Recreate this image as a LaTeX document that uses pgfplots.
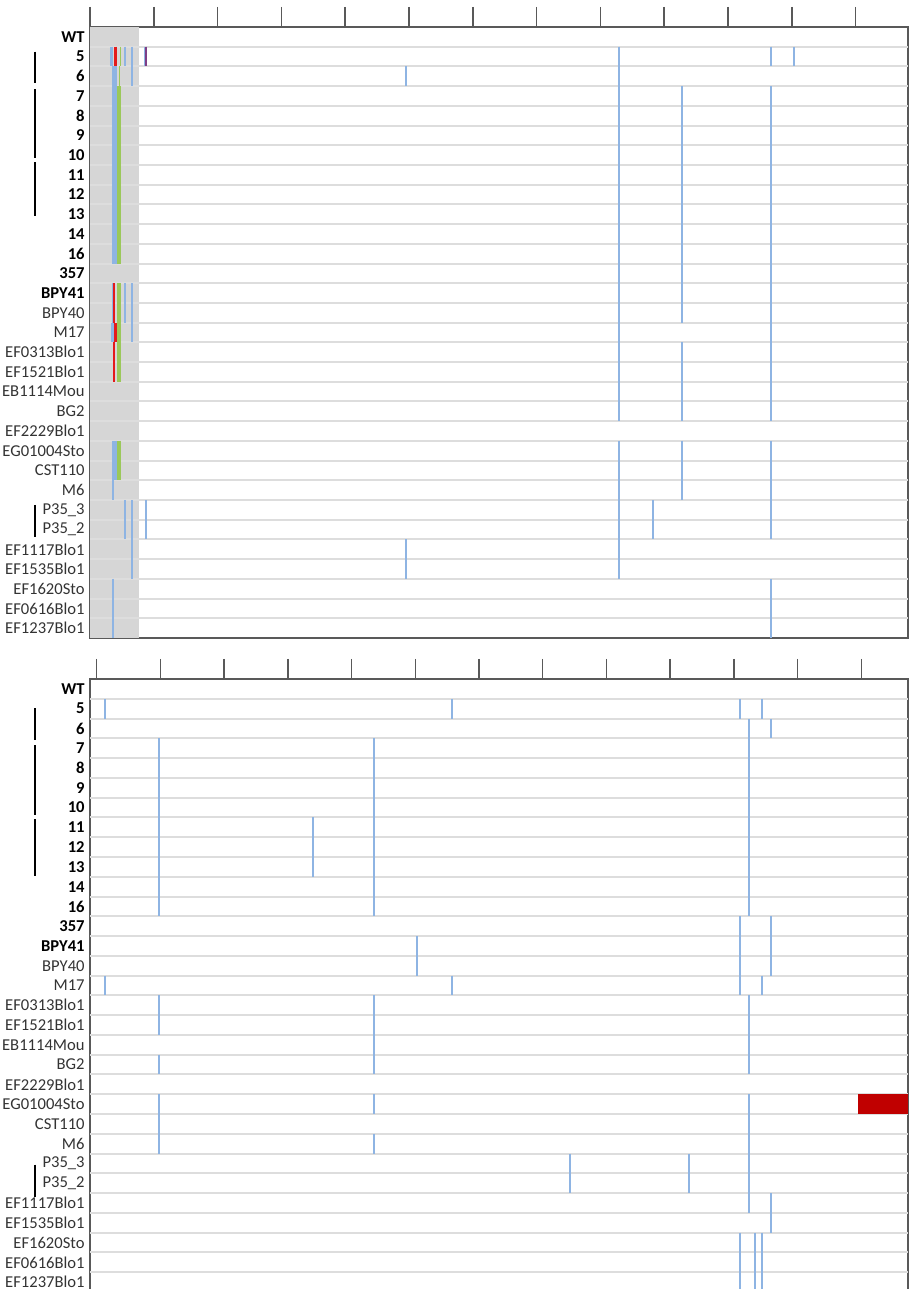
\documentclass[border=0pt]{standalone}
\usepackage{pgfplots}
\usepackage{pgfplotstable}
\pgfplotsset{compat=1.18}
\usepackage{fontspec}
\setmainfont{Carlito}
\definecolor{mblue}{HTML}{8EB4E3}
\definecolor{mred}{HTML}{E41A1C}
\definecolor{mgreen}{HTML}{9BC85A}
\definecolor{mpurple}{HTML}{7E3F86}
\definecolor{dred}{HTML}{C00000}
\definecolor{sepgray}{HTML}{DDDDDD}
\definecolor{shade}{HTML}{D6D6D6}
\definecolor{axgray}{HTML}{595959}
\definecolor{lab}{HTML}{333333}
\newcommand{\B}[1]{\textcolor{black}{\textbf{#1}}}
\pgfplotstableread{
x y
90 0.5
908 0.5
nan nan
90 1.5
908 1.5
nan nan
90 2.5
908 2.5
nan nan
90 3.5
908 3.5
nan nan
90 4.5
908 4.5
nan nan
90 5.5
908 5.5
nan nan
90 6.5
908 6.5
nan nan
90 7.5
908 7.5
nan nan
90 8.5
908 8.5
nan nan
90 9.5
908 9.5
nan nan
90 10.5
908 10.5
nan nan
90 11.5
908 11.5
nan nan
90 12.5
908 12.5
nan nan
90 13.5
908 13.5
nan nan
90 14.5
908 14.5
nan nan
90 15.5
908 15.5
nan nan
90 16.5
908 16.5
nan nan
90 17.5
908 17.5
nan nan
90 18.5
908 18.5
nan nan
90 19.5
908 19.5
nan nan
90 20.5
908 20.5
nan nan
90 21.5
908 21.5
nan nan
90 22.5
908 22.5
nan nan
90 23.5
908 23.5
nan nan
90 24.5
908 24.5
nan nan
90 25.5
908 25.5
nan nan
90 26.5
908 26.5
nan nan
90 27.5
908 27.5
nan nan
90 28.5
908 28.5
nan nan
90 29.5
908 29.5
}\seps
\pgfplotsset{
  rowpanel/.style={
    scale only axis, width=409pt, height=305.5pt,
    xmin=90, xmax=908, ymin=-0.5, ymax=30.5, y dir=reverse,
    clip=false, unbounded coords=jump,
    xtick pos=right, xtick align=outside, major tick length=10pt,
    xticklabels={},
    ytick={0,...,30}, ytick pos=left, ytick style={draw=none},
    yticklabels={\B{WT},\B{5},\B{6},\B{7},\B{8},\B{9},\B{10},\B{11},\B{12},\B{13},\B{14},\B{16},\B{357},\B{BPY41},BPY40,M17,EF0313Blo1,EF1521Blo1,EB1114Mou,BG2,EF2229Blo1,EG01004Sto,CST110,M6,P35\_3,P35\_2,EF1117Blo1,EF1535Blo1,EF1620Sto,EF0616Blo1,EF1237Blo1},
    axis line style={axgray, line width=0.75pt},
    xtick style={axgray, line width=0.75pt},
    yticklabel style={font=\fontsize{8.3}{10}\selectfont, text=lab, inner xsep=0pt, xshift=-2.5pt},
  }
}
\begin{document}
\begin{tikzpicture}
\path[use as bounding box] (0,0) rectangle (454.5pt,644.5pt);
% ---------------- top panel ----------------
\begin{axis}[rowpanel, at={(45pt,325.5pt)}, anchor=south west,
  xtick={90,153.8,217.6,281.4,345.2,409,472.8,536.6,600.4,664.2,728,791.8,855.6}]
\addplot[fill=shade, draw=none] coordinates {(90,-0.5) (139,-0.5) (139,30.5) (90,30.5)} -- cycle;
\addplot[sepgray, line width=1pt] table {\seps};
% thick blue
\addplot[mblue, line width=2.5pt] table {
x y
114.2 1.5
114.2 11.5
nan nan
114.2 20.5
114.2 22.5
};
\addplot[mblue, line width=1.5pt] table {
x y
111 0.5
111 1.5
nan nan
112.7 14.5
112.7 15.5
};
\addplot[mblue, line width=0.8pt] table {
x y
112.6 12.5
112.6 14.5
};
% thin blue
\addplot[mblue, line width=1pt] table {
x y
131.7 0.5
131.7 2.5
nan nan
131.7 12.5
131.7 15.5
nan nan
131.7 23.5
131.7 27.5
nan nan
125 0.5
125 1.5
nan nan
125 12.5
125 14.5
nan nan
125 23.5
125 25.5
nan nan
112.5 22.5
112.5 23.5
nan nan
112.5 27.5
112.5 30.5
nan nan
145.8 23.5
145.8 25.5
nan nan
406 1.5
406 2.5
nan nan
406 25.5
406 27.5
nan nan
619 0.5
619 19.5
nan nan
619 20.5
619 27.5
nan nan
681.5 2.5
681.5 14.5
nan nan
681.5 15.5
681.5 19.5
nan nan
681.5 20.5
681.5 23.5
nan nan
653 23.5
653 25.5
nan nan
770.5 0.5
770.5 1.5
nan nan
770.5 2.5
770.5 19.5
nan nan
770.5 20.5
770.5 25.5
nan nan
770.5 27.5
770.5 30.5
nan nan
793.5 0.5
793.5 1.5
};
% purple mark with blue edge
\addplot[mblue, line width=1.6pt] table {
x y
145.6 0.5
145.6 1.5
};
\addplot[mpurple, line width=0.9pt] table {
x y
145.6 0.5
145.6 1.5
};
% green
\addplot[mgreen, line width=1.75pt] table {
x y
119 2.5
119 11.5
nan nan
119 12.5
119 17.5
nan nan
119 20.5
119 22.5
};
\addplot[mgreen, line width=0.5pt] table {
x y
120.2 0.5
120.2 1.5
nan nan
119.5 1.5
119.5 2.5
};
% red
\addplot[mred, line width=1.1pt] table {
x y
114.3 12.5
114.3 14.5
nan nan
114 15.5
114 17.5
};
\addplot[mred, line width=1.35pt] table {
x y
115.3 0.5
115.3 1.5
nan nan
115.8 14.5
115.8 15.5
};
% brackets
\addplot[black, line width=0.75pt] table {
x y
35 0.75
35 2.36
nan nan
35 2.66
35 6.15
nan nan
35 6.35
35 9.09
nan nan
35 23.75
35 25.36
};
\end{axis}
% ---------------- bottom panel ----------------
\begin{axis}[rowpanel, at={(45pt,-1.5pt)}, anchor=south west, height=306.5pt,
  xtick={96.7,160.4,224.1,287.9,351.6,415.3,479,542.7,606.5,670.2,733.9,797.6,861.3}]
\addplot[sepgray, line width=1pt] table {\seps};
\addplot[fill=dred, draw=none] coordinates {(858,20.5) (908,20.5) (908,21.5) (858,21.5)} -- cycle;
\addplot[mblue, line width=1pt] table {
x y
105 0.5
105 1.5
nan nan
105 14.5
105 15.5
nan nan
158.5 2.5
158.5 11.5
nan nan
158.5 15.5
158.5 17.5
nan nan
158.5 18.5
158.5 19.5
nan nan
158.5 20.5
158.5 23.5
nan nan
313 6.5
313 9.5
nan nan
374 2.5
374 11.5
nan nan
374 15.5
374 19.5
nan nan
374 20.5
374 21.5
nan nan
374 22.5
374 23.5
nan nan
417 12.5
417 14.5
nan nan
452 0.5
452 1.5
nan nan
452 14.5
452 15.5
nan nan
570 23.5
570 25.5
nan nan
689 23.5
689 25.5
nan nan
740 0.5
740 1.5
nan nan
740 11.5
740 15.5
nan nan
740 27.5
740 30.5
nan nan
749.3 1.5
749.3 11.5
nan nan
749.3 15.5
749.3 19.5
nan nan
749.3 20.5
749.3 26.5
nan nan
755.3 27.5
755.3 30.5
nan nan
761.7 0.5
761.7 1.5
nan nan
761.7 14.5
761.7 15.5
nan nan
761.7 27.5
761.7 30.5
nan nan
770.7 1.5
770.7 2.5
nan nan
770.7 11.5
770.7 14.5
nan nan
770.7 25.5
770.7 27.5
};
\addplot[black, line width=0.75pt] table {
x y
35 0.99
35 2.59
nan nan
35 2.85
35 6.4
nan nan
35 6.6
35 9.44
nan nan
35 24.06
35 25.68
};
\end{axis}
\end{tikzpicture}
\end{document}
